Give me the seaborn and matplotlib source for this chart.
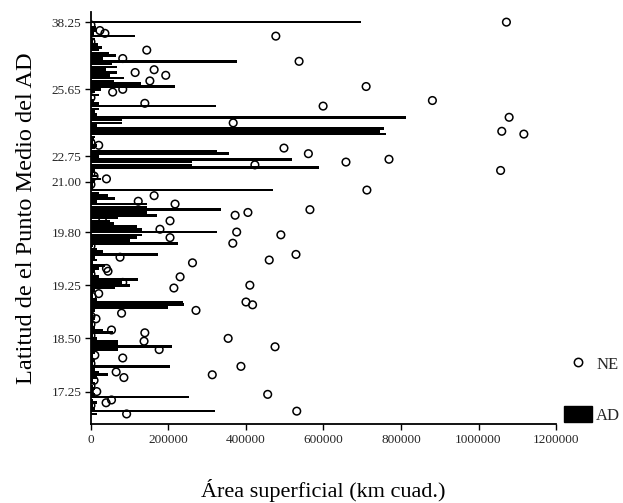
import numpy as np
import pandas as pd
import matplotlib
matplotlib.use("Agg")
import matplotlib.pyplot as plt
import seaborn as sns
from matplotlib.lines import Line2D
from matplotlib.patches import Patch

sns.set_theme(style="ticks")
plt.rcParams["font.family"] = ["Liberation Serif", "DejaVu Serif"]

nan = np.nan

# AD surface area per latitude row (thousand km2), top (38.25) to bottom (~17)
ad_k = [698, 0, 12, 15, 8, 113, 10, 5, 18, 28,
        20, 46, 64, 30, 376, 54, 67, 40, 67, 50,
        85, 60, 130, 217, 25, 10, 20, 0, 8, 20,
        323, 20, 10, 15, 813, 81, 81, 15, 755, 745,
        760, 10, 8, 5, 15, 10, 325, 355, 20, 518,
        260, 262, 588, 10, 5, 15, 25, 10, 5, 5,
        469, 20, 45, 62, 15, 144, 144, 335, 144, 170,
        70, 50, 60, 120, 131, 324, 131, 120, 100, 225,
        5, 15, 30, 173, 10, 15, 5, 35, 20, 10,
        5, 20, 121, 80, 101, 62, 10, 5, 5, 15,
        238, 240, 199, 10, 5, 5, 10, 5, 5, 10,
        30, 57, 5, 15, 70, 70, 208, 70, 10, 5,
        5, 10, 5, 204, 10, 20, 45, 15, 5, 10,
        5, 10, 5, 10, 254, 5, 15, 5, 10, 320,
        15]

# NE surface area per latitude row (thousand km2)
ne_k = [1072, 0, nan, 23, 36, 477, nan, 0, nan, nan,
        144, nan, nan, 82, 537, nan, nan, 163, 114, 193,
        nan, 152, nan, 710, 82, 56, nan, 0, 881, 139,
        599, nan, nan, nan, 1079, nan, 367, nan, nan, 1060,
        1117, nan, nan, 0, 20, 498, nan, 561, nan, 769,
        658, 423, nan, 1057, 0, 8, 40, nan, 0, nan,
        712, nan, 163, 0, 122, 217, nan, 565, 405, 372,
        30, 204, nan, nan, 178, 376, 490, 204, nan, 366,
        0, nan, nan, 529, 75, 460, 262, nan, 40, 44,
        0, 230, nan, 82, 410, 214, nan, 20, 3, nan,
        400, 417, nan, 271, 79, 0, 13, nan, 0, nan,
        53, 139, 0, 354, 137, nan, 475, 176, nan, 10,
        82, nan, 0, 387, nan, 65, 313, 85, 8, nan,
        0, nan, 15, 456, nan, 53, 39, 0, nan, 531,
        92]

tick_rows = [0, 24, 48, 57, 75, 94, 113, 132]
tick_labels = ["38.25", "25.65", "22.75", "21.00", "19.80", "19.25", "18.50", "17.25"]
x_ticks = [0, 200000, 400000, 600000, 800000, 1000000, 1200000]

df = pd.DataFrame({
    "fila": np.arange(len(ad_k)),
    "AD": np.array(ad_k, dtype=float) * 1000,
    "NE": np.array(ne_k, dtype=float) * 1000,
})

fig = plt.figure(figsize=(6.23, 5.03), dpi=100)
ax = fig.add_axes([0.146, 0.157, 0.7465, 0.819])

sns.barplot(data=df, x="AD", y="fila", orient="h", native_scale=True,
            color="black", width=0.95, linewidth=0, errorbar=None, ax=ax)
sns.scatterplot(data=df.dropna(subset=["NE"]), x="NE", y="fila", s=30,
                marker="o", ax=ax, zorder=5)
pts = ax.collections[-1]
pts.set_facecolor("none")
pts.set_edgecolor("black")
pts.set_linewidth(1.1)

ax.set_xlim(0, 1200000)
ax.set_ylim(143.6, -3.6)
ax.set_xticks(x_ticks)
ax.set_xticklabels([str(v) for v in x_ticks], fontsize=9.5)
ax.set_yticks(tick_rows)
ax.set_yticklabels(tick_labels, fontsize=9.5)
ax.tick_params(axis="both", direction="out", length=4, width=1, color="black", pad=3)
sns.despine(ax=ax)
for s in ("left", "bottom"):
    ax.spines[s].set_color("black")
    ax.spines[s].set_linewidth(1.3)

ax.set_xlabel("Área superficial (km cuad.)", fontsize=16, labelpad=24, color="black")
ax.set_ylabel("Latitud de el Punto Medio del AD", fontsize=17.5, labelpad=10, color="black")

handles = [Line2D([], [], marker="o", ls="none", mfc="none", mec="black", ms=6, mew=1.1),
           Patch(fc="black", ec="black")]
ax.legend(handles, ["NE", "AD"], loc="center left", bbox_to_anchor=(0.905, 0.226),
          bbox_transform=fig.transFigure, frameon=False, fontsize=12, borderpad=0,
          borderaxespad=0, labelspacing=2.0, handlelength=1.7, handleheight=1.1,
          handletextpad=0.25)

fig.savefig("out.png", dpi=100, facecolor="white")
